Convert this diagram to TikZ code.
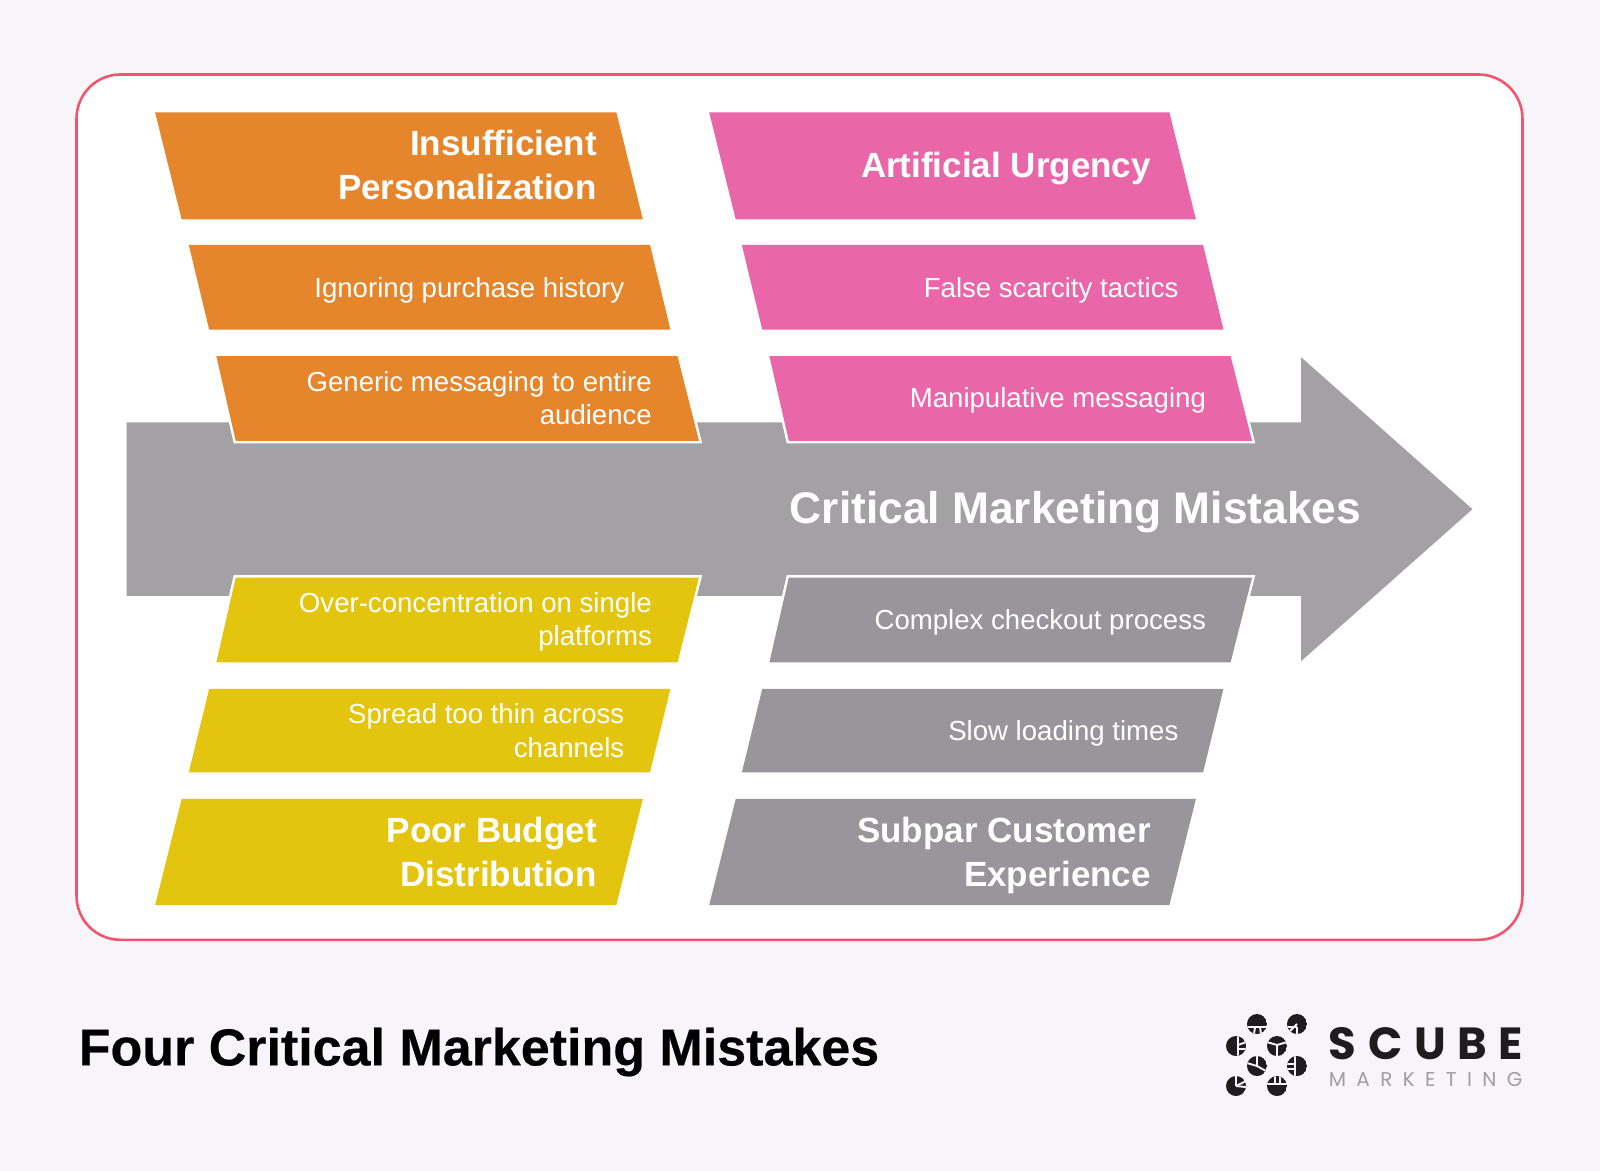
\documentclass[tikz,border=0pt]{standalone}
\usepackage{fontspec}
\setmainfont{Liberation Sans}
\newfontfamily\logofont{Poppins}
\definecolor{pagebg}{HTML}{F7F5F9}
\definecolor{rimred}{HTML}{F0566F}
\definecolor{arrowgray}{HTML}{A3A1A4}
\definecolor{boxgray}{HTML}{98969B}
\definecolor{boxorange}{HTML}{E5862D}
\definecolor{boxpink}{HTML}{E966A9}
\definecolor{boxyellow}{HTML}{E3C50F}
\definecolor{logodark}{HTML}{1E1C1E}
\definecolor{logogray}{HTML}{A09EA2}
\tikzset{
  band/.style={preaction={draw=white,line width=5pt,line join=miter}},
  headtext/.style={text=white,anchor=east,align=right,inner sep=0pt,font=\fontsize{35}{44}\selectfont\bfseries},
  bodytext/.style={text=white,anchor=east,align=right,inner sep=0pt,font=\fontsize{27.6}{33.2}\selectfont},
  cut/.style={draw=pagebg,line width=1.9pt},
}
\newcommand{\logodot}[3]{%
  \begin{scope}
  \clip (#1,#2) circle[radius=10];
  \fill[logodark] (#1,#2) circle[radius=10];
  \foreach \a/\b/\c/\d in {#3} {\draw[cut] (#1+\a,#2+\b) -- (#1+\c,#2+\d);}
  \end{scope}
}
\begin{document}
\begin{tikzpicture}[x=1.0204pt,y=-1.0204pt]
\useasboundingbox (0,0) rectangle (1568,1147.55);
\fill[pagebg] (0,0) rectangle (1568,1147.55);
\draw[rimred,line width=2.6pt,fill=white,rounded corners=44pt] (75,73) rectangle (1492,921);
% central arrow
\fill[arrowgray] (124,414) -- (1275,414) -- (1275,350) -- (1443,499) -- (1275,648) -- (1275,584) -- (124,584) -- cycle;
\node[text=white,inner sep=0pt,font=\fontsize{44.3}{50}\selectfont\bfseries] (spine) at (1054,502) {Critical Marketing Mistakes};
% orange
\fill[boxorange] (152,110) -- (604,110) -- (630,215) -- (178,215) -- cycle;
\fill[boxorange] (185,240) -- (637,240) -- (657,323) -- (205,323) -- cycle;
\path[band,fill=boxorange] (212,349) -- (664,349) -- (685,432) -- (231,432) -- cycle;
% pink
\fill[boxpink] (695,110) -- (1146,110) -- (1172,215) -- (721,215) -- cycle;
\fill[boxpink] (727,240) -- (1179,240) -- (1199,323) -- (747,323) -- cycle;
\path[band,fill=boxpink] (754,349) -- (1206,349) -- (1227,432) -- (773,432) -- cycle;
% yellow
\path[band,fill=boxyellow] (231,566) -- (685,566) -- (664,649) -- (212,649) -- cycle;
\fill[boxyellow] (205,675) -- (657,675) -- (637,757) -- (185,757) -- cycle;
\fill[boxyellow] (178,783) -- (630,783) -- (604,887) -- (152,887) -- cycle;
% gray
\path[band,fill=boxgray] (773,566) -- (1227,566) -- (1206,649) -- (754,649) -- cycle;
\fill[boxgray] (747,675) -- (1199,675) -- (1179,757) -- (727,757) -- cycle;
\fill[boxgray] (721,783) -- (1172,783) -- (1146,887) -- (695,887) -- cycle;
% labels
\node[headtext] (o1) at (585,161.5) {Insufficient\\Personalization};
\node[bodytext] (o2) at (612,284.5) {Ignoring purchase history};
\node[bodytext] (o3) at (639,390) {Generic messaging to entire\\audience};
\node[headtext] (p1) at (1128,165.5) {Artificial Urgency};
\node[bodytext] (p2) at (1155,284.5) {False scarcity tactics};
\node[bodytext] (p3) at (1182,392) {Manipulative messaging};
\node[bodytext] (y1) at (639,609.5) {Over-concentration on single\\platforms};
\node[bodytext] (y2) at (612,716) {Spread too thin across\\channels};
\node[headtext] (y3) at (585,834.5) {Poor Budget\\Distribution};
\node[bodytext] (g1) at (1182,609.5) {Complex checkout process};
\node[bodytext] (g2) at (1155,718.5) {Slow loading times};
\node[headtext] (g3) at (1128,838) {Subpar Customer\\Experience};
% footer
\node[anchor=west,inner sep=0pt,text=black,font=\fontsize{52}{58}\selectfont\bfseries\addfontfeatures{FakeBold=0.4}] (title) at (77,1031) {Four Critical Marketing Mistakes};
% logo
\begin{scope}[x=1pt,y=-1pt]
\logodot{1257}{1024}{-10/3/10/3,-2/3/-3/10,3/3/4/10}
\logodot{1297}{1024}{-10/3/0/3,0/3/0/10,-9/9/0/0}
\logodot{1236}{1046}{2/-10/2/10,2/-1/10/-4,2/3/10/3}
\logodot{1277}{1046}{0/-1/0/10,0/-1/-10/-4,0/-1/10/-4}
\logodot{1257}{1066}{0/0/0/-10,0/0/-10/-3,0/0/9/5}
\logodot{1297}{1066}{-2/-10/-2/10,-10/-2/-2/-2,-10/3/-2/3}
\logodot{1236}{1086}{0/-10/0/0,0/0/10/-5,0/0/10/1}
\logodot{1277}{1086}{-10/-2/10/-2,-2/-10/-2/-2,3/-10/3/-2}
\end{scope}
\node[anchor=west,inner sep=0pt,text=logodark,font=\logofont\fontsize{45}{50}\selectfont\addfontfeatures{LetterSpace=26}\bfseries] (scube) at (1302,1023) {SCUBE};
\node[anchor=west,inner sep=0pt,text=logogray,font=\logofont\fontsize{20}{24}\selectfont\addfontfeatures{LetterSpace=52}] (mkt) at (1302,1058) {MARKETING};
\end{tikzpicture}
\end{document}
